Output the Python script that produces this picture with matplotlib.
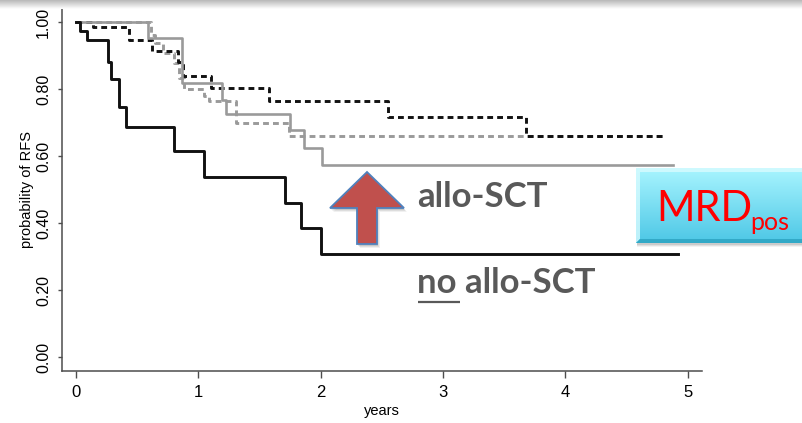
import numpy as np
import matplotlib
matplotlib.use("Agg")
import matplotlib.pyplot as plt
from matplotlib.patches import Polygon, Rectangle

plt.rcParams["font.family"] = ["Liberation Sans", "DejaVu Sans"]

# Kaplan-Meier step curves (years, probability of RFS)
no_allo_t = [0, 0.035, 0.09, 0.26, 0.29, 0.35, 0.41, 0.80, 1.05, 1.71, 1.84, 2.00, 4.92]
no_allo_s = [1.0, 0.973, 0.947, 0.882, 0.83, 0.748, 0.688, 0.615, 0.538, 0.462, 0.385, 0.308, 0.308]

allo_t = [0, 0.59, 0.87, 1.19, 1.23, 1.75, 1.86, 2.01, 4.88]
allo_s = [1.0, 0.952, 0.818, 0.768, 0.725, 0.678, 0.626, 0.574, 0.574]

neg_no_allo_t = [0, 0.14, 0.43, 0.62, 0.83, 0.875, 1.10, 1.58, 2.55, 3.68, 4.80]
neg_no_allo_s = [1.0, 0.985, 0.947, 0.915, 0.88, 0.84, 0.803, 0.766, 0.718, 0.66, 0.66]

neg_allo_t = [0, 0.61, 0.645, 0.71, 0.80, 0.84, 0.88, 1.05, 1.09, 1.31, 1.74, 4.80]
neg_allo_s = [1.0, 0.962, 0.937, 0.907, 0.878, 0.833, 0.80, 0.78, 0.765, 0.70, 0.66, 0.66]

x_ticks = [0, 1, 2, 3, 4, 5]
y_ticks = [0.0, 0.2, 0.4, 0.6, 0.8, 1.0]

W, H = 803, 423
fig = plt.figure(figsize=(W / 100, H / 100), dpi=100)
fig.patch.set_facecolor("white")

ax = fig.add_axes([62 / W, 1 - 371 / H, 640 / W, 363 / H])
dash = (0, (2.0, 1.4))
ax.plot(neg_allo_t, neg_allo_s, drawstyle="steps-post", color="#9a9a9a", lw=2.1, ls=dash)
ax.plot(neg_no_allo_t, neg_no_allo_s, drawstyle="steps-post", color="#111111", lw=2.1, ls=dash)
ax.plot(allo_t, allo_s, drawstyle="steps-post", color="#9a9a9a", lw=1.9)
ax.plot(no_allo_t, no_allo_s, drawstyle="steps-post", color="#111111", lw=2.1)

ax.set_xlim(-0.1145, 5.118)
ax.set_ylim(-0.041, 1.0427)
for side in ("top", "right"):
    ax.spines[side].set_visible(False)
for side in ("left", "bottom"):
    ax.spines[side].set_color("#4d4d4d")
    ax.spines[side].set_linewidth(1.1)

ax.set_xticks(x_ticks)
ax.set_xticklabels([str(v) for v in x_ticks])
ax.set_yticks(y_ticks)
ax.set_yticklabels([f"{v:.2f}" for v in y_ticks], rotation=90, va="center")
ax.tick_params(axis="x", length=5, width=1.0, color="#4d4d4d", labelsize=12, pad=5)
ax.tick_params(axis="y", length=3, width=1.0, color="#4d4d4d", labelsize=11.5, pad=5)
ax.set_xlabel("years", fontsize=10.5, labelpad=3)
ax.set_ylabel("probability of RFS", fontsize=10.5, labelpad=1)

# overlay in pixel coordinates for the slide annotations
ov = fig.add_axes([0, 0, 1, 1], zorder=5)
ov.patch.set_alpha(0)
ov.axis("off")

# grey shadow strip along the top edge
band = np.linspace(0.72, 1.0, 50)[:, None] * np.ones((1, 2))
ov.imshow(band, cmap="gray", vmin=0, vmax=1, extent=(0, W, 9, 0), aspect="auto", zorder=1)

# up arrow with a soft drop shadow
arrow = [(367, 172), (404, 208), (377, 208), (377, 244), (357, 244), (357, 208), (330, 208)]
for k, a in enumerate([0.06, 0.08, 0.10]):
    off = 3 - k
    ov.add_patch(Polygon([(x + off, y + off + 1) for x, y in arrow], closed=True,
                         facecolor="black", edgecolor="none", alpha=a, zorder=2))
ov.add_patch(Polygon(arrow, closed=True, facecolor="#c0504d", edgecolor="#4f81bd",
                     lw=1.3, zorder=3))

label_font = ["Lato", "DejaVu Sans"]
ov.text(417, 207, "allo-SCT", fontsize=25, fontweight="bold", color="#595959",
        family=label_font, va="baseline", ha="left", zorder=4)
ov.text(417, 293, "no allo-SCT", fontsize=25, fontweight="bold", color="#595959",
        family=label_font, va="baseline", ha="left", zorder=4)
ov.plot([418, 460], [302, 302], color="#595959", lw=1.6, solid_capstyle="butt", zorder=4)

# MRDpos box: shadow, gradient body and bevelled edges
bx0, bx1, by0, by1 = 636, 812, 168, 243
for k, a in enumerate([0.05, 0.07, 0.09]):
    off = 4 - k
    ov.add_patch(Rectangle((bx0 + 1, by0 + off), bx1 - bx0, by1 - by0,
                           facecolor="black", edgecolor="none", alpha=a, zorder=2))
grad = np.linspace(0, 1, 100)[:, None]
top_c = np.array([0.66, 0.96, 1.0])
bot_c = np.array([0.30, 0.78, 0.90])
img = top_c * (1 - grad[..., None]) + bot_c * grad[..., None]
img = np.repeat(img, 2, axis=1)
ov.imshow(img, extent=(bx0, bx1, by1, by0), aspect="auto", zorder=3, interpolation="bilinear")
ov.add_patch(Polygon([(bx0, by0), (bx1, by0), (bx1, by0 + 4), (bx0 + 4, by0 + 4),
                      (bx0 + 4, by1 - 4), (bx0, by1)], closed=True,
                     facecolor="#d8fbff", edgecolor="none", alpha=0.8, zorder=3.5))
ov.add_patch(Polygon([(bx0, by1), (bx0 + 4, by1 - 4), (bx1, by1 - 4), (bx1, by1)],
                     closed=True, facecolor="#2fa6c4", edgecolor="none", alpha=0.9, zorder=3.5))
ov.text(656, 221, "MRD", fontsize=30, color="#ff0000", family=label_font,
        va="baseline", ha="left", zorder=4)
ov.text(750, 230, "pos", fontsize=18, color="#ff0000", family=label_font,
        va="baseline", ha="left", zorder=4)

ov.set_xlim(0, W)
ov.set_ylim(H, 0)

fig.savefig("out.png", dpi=100)
